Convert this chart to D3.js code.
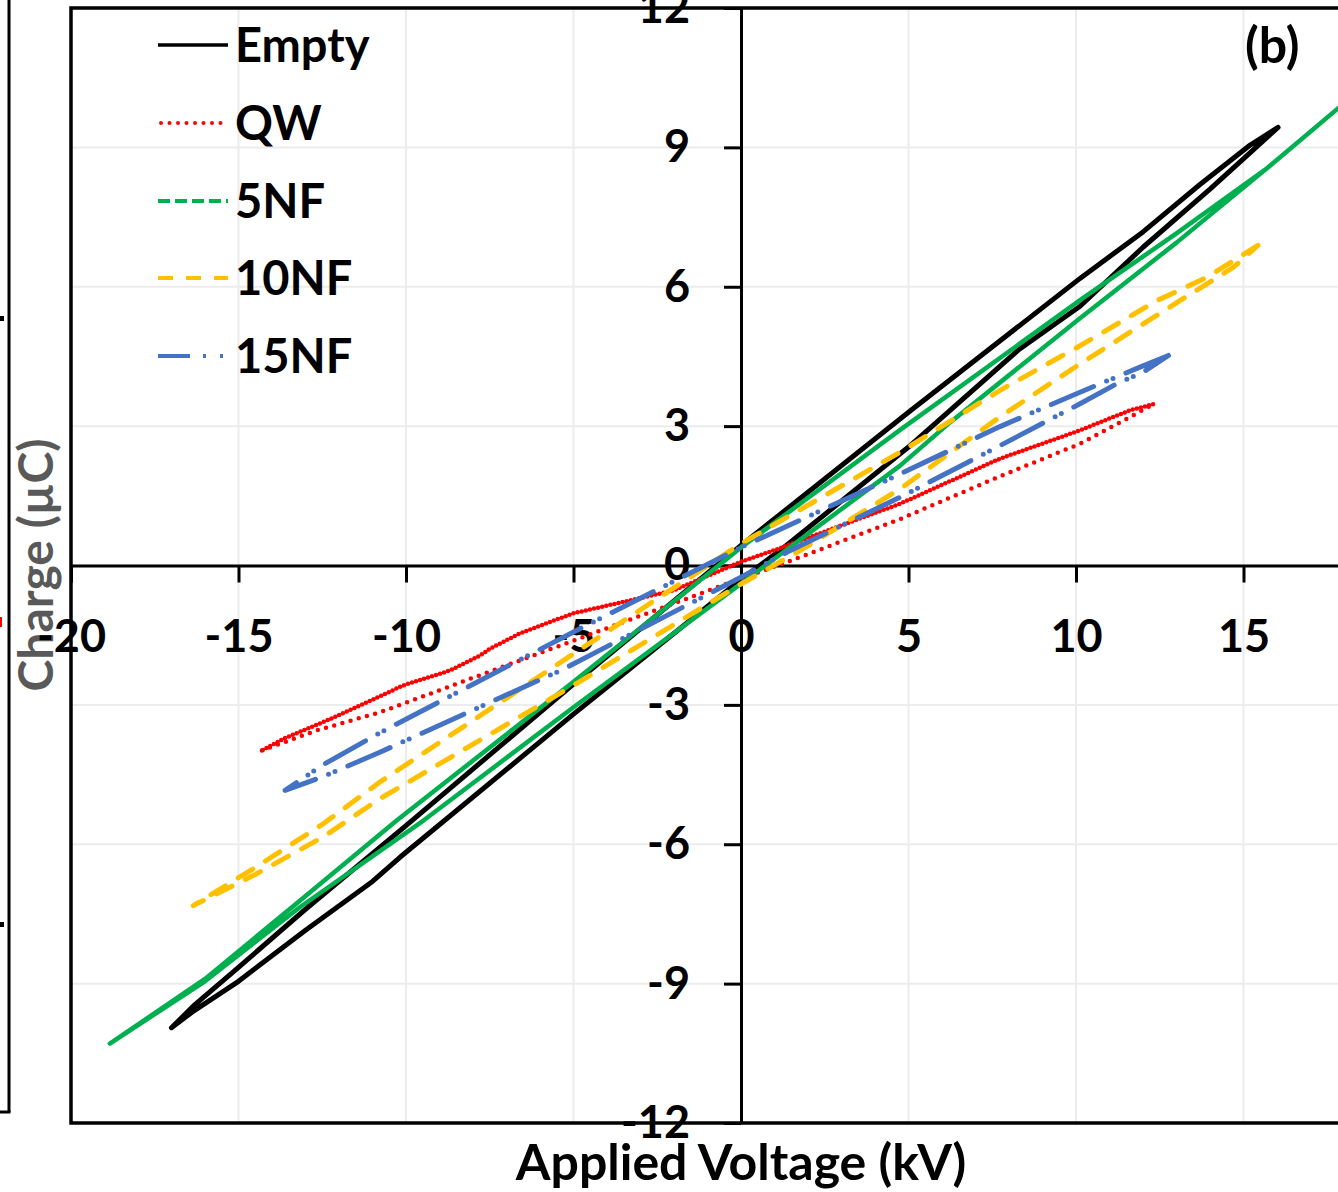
<!DOCTYPE html>
<html>
<head>
<meta charset="utf-8">
<script src="https://cdn.jsdelivr.net/npm/d3@7"></script>
<style>
body { margin: 0; background: #fff; }
svg { display: block; }
</style>
</head>
<body>
<div id="chart"></div>
<script>
// each loop = upper branch (right tip -> left tip) + lower branch (left tip -> right tip), points are [kV, µC]
var emptyUpper = [[16.03,9.43],[15.2,9.05],[13.7,8.2],[12,7.18],[10.12,6.18],[5,3.3],[0,0.43],[-5,-2.55],[-10,-5.6],[-13,-7.4],[-15,-8.65],[-16.3,-9.45],[-17,-9.95]]
var emptyLower = [[-17,-9.95],[-16.4,-9.62],[-15,-8.95],[-13,-7.85],[-11,-6.8],[-10.18,-6.28],[-5,-3.2],[0,-0.3],[1.16,0.32],[5,2.55],[8.3,4.65],[10.12,5.58],[12,6.85],[14,8.1],[15.3,8.95],[16.03,9.43]]

var qwUpper = [[12.3,3.47],[11.61,3.34],[10.12,2.91],[7.73,2.3],[4.75,1.33],[0.96,0.32],[0,0.08],[-2.03,-0.54],[-5.01,-1.03],[-6.6,-1.46],[-7.49,-1.79],[-7.79,-1.94],[-8.69,-2.26],[-10.08,-2.58],[-11.27,-2.98],[-12.47,-3.37],[-13.66,-3.73],[-14.3,-3.98]]
var qwLower = [[-14.3,-3.98],[-12.67,-3.55],[-10.78,-3.16],[-5.8,-1.83],[0,-0.28],[1.36,0.07],[4.75,1.0],[7.73,1.92],[10.12,2.62],[11.5,3.15],[12.3,3.47]]

var nf5Upper = [[18.9,10.5],[17.82,9.84],[15.7,8.55],[13,7.15],[10.12,5.71],[4.75,2.92],[0,0.39],[-5,-2.5],[-10.28,-5.49],[-13.16,-7.21],[-16,-8.9],[-18.84,-10.29]]
var nf5Lower = [[-18.84,-10.29],[-16,-8.95],[-13.16,-7.35],[-9.48,-5.49],[-5,-3.05],[0,-0.39],[4.75,2.15],[6.24,3.08],[10.12,5.32],[13,6.95],[15.7,8.55],[17.82,9.84],[18.9,10.5]]

var nf10Upper = [[15.43,6.89],[13.9,6.2],[12.41,5.7],[10.12,4.73],[7.73,3.77],[4.75,2.44],[0,0.47],[-5,-1.9],[-10.78,-4.66],[-12.47,-5.56],[-14.5,-6.5],[-16.35,-7.32]]
var nf10Lower = [[-16.35,-7.32],[-14.5,-6.65],[-12.47,-5.84],[-10.78,-5.02],[-5,-2.58],[0,-0.4],[1.76,0.32],[4.75,1.65],[7.73,3.2],[10.12,4.34],[13.1,5.7],[14.7,6.42],[15.43,6.89]]

var nf15Upper = [[12.76,4.52],[11.91,4.27],[10.12,3.73],[7.73,2.99],[4.75,1.97],[3.25,1.47],[0,0.39],[-5,-1.43],[-10.78,-3.6],[-12.5,-4.3],[-13.61,-4.84]]
var nf15Lower = [[-13.61,-4.84],[-12.5,-4.55],[-10.78,-4.02],[-5.3,-2.23],[0,-0.25],[1.46,0.32],[4.75,1.47],[7.73,2.58],[10.12,3.48],[11.21,3.91],[12,4.16],[12.76,4.52]]

var seriesNames = ['Empty', 'QW', '5NF', '10NF', '15NF']
var xTicks = [-20, -15, -10, -5, 0, 5, 10, 15]
var yTicks = [-12, -9, -6, -3, 0, 3, 6, 9, 12]

//styles per series (plot line + legend sample)
var styles = {
  'Empty': {color: '#000000', width: 5, dash: null, legendDash: null},
  'QW':    {color: '#ff0000', width: 4.5, dash: '0 4.2', dash2: '0 8.5', legendDash: '0 8.5'},
  '5NF':   {color: '#00b050', width: 4.5, dash: null, legendDash: '12 5'},
  '10NF':  {color: '#ffc000', width: 5, dash: '17 15', legendDash: '15 13'},
  '15NF':  {color: '#4472c4', width: 5, dash: '46 14 0 7 0 14', legendDash: '32 13 3 14 3 40'}
}
var loops = {
  'Empty': [emptyUpper, emptyLower],
  'QW': [qwUpper, qwLower],
  '5NF': [nf5Upper, nf5Lower],
  '10NF': [nf10Upper, nf10Lower],
  '15NF': [nf15Upper, nf15Lower]
}

var font = 'Lato, "Open Sans", sans-serif'
var width = 1338, height = 1192

var svg = d3.select('#chart').append('svg')
  .attr('width', width).attr('height', height)
  .style('font-family', font).style('font-weight', 700)

var x = d3.scaleLinear().domain([-20, 20]).range([71, 1411])
var y = d3.scaleLinear().domain([-12, 12]).range([1123, 8])

// pieces of the neighbouring panel on the far left
svg.append('line').attr('x1', 9).attr('x2', 9).attr('y1', 0).attr('y2', 1112)
  .attr('stroke', '#000').attr('stroke-width', 3)
svg.append('line').attr('x1', 0).attr('x2', 10.5).attr('y1', 1112).attr('y2', 1112)
  .attr('stroke', '#000').attr('stroke-width', 3)
svg.append('rect').attr('x', 0).attr('y', 316).attr('width', 4).attr('height', 5).attr('fill', '#000')
svg.append('rect').attr('x', 0).attr('y', 922).attr('width', 4).attr('height', 5).attr('fill', '#000')
svg.append('rect').attr('x', 0).attr('y', 617).attr('width', 2).attr('height', 10).attr('fill', '#ff0000')

//gridlines
svg.append('g').selectAll('line').data(xTicks).enter().append('line')
  .attr('x1', d => x(d)).attr('x2', d => x(d)).attr('y1', y(12)).attr('y2', y(-12))
  .attr('stroke', '#ececec').attr('stroke-width', 2)
svg.append('g').selectAll('line').data(yTicks).enter().append('line')
  .attr('x1', x(-20)).attr('x2', width).attr('y1', d => y(d)).attr('y2', d => y(d))
  .attr('stroke', '#ececec').attr('stroke-width', 2)

//plot frame
svg.append('path')
  .attr('d', 'M' + width + ',' + y(12) + 'H' + x(-20) + 'V' + y(-12) + 'H' + width)
  .attr('fill', 'none').attr('stroke', '#000').attr('stroke-width', 3.5)

// y title (drawn before tick labels, the -20 sits on top of it)
svg.append('text')
  .attr('transform', 'translate(53,565) rotate(-90)')
  .attr('text-anchor', 'middle')
  .attr('font-size', 48).attr('fill', '#595959')
  .text('Charge (µC)')

//axes crossing at the origin
var xAxis = d3.axisBottom(x).tickValues(xTicks).tickSize(17).tickSizeOuter(0).tickPadding(38).tickFormat(d => String(d))
var gx = svg.append('g').attr('transform', 'translate(0,' + y(0) + ')').call(xAxis)
var yAxis = d3.axisLeft(y).tickValues(yTicks).tickSize(17).tickSizeOuter(0).tickPadding(34).tickFormat(d => String(d))
var gy = svg.append('g').attr('transform', 'translate(' + x(0) + ',0)').call(yAxis)

;[gx, gy].forEach(function(g) {
  g.attr('font-family', font).attr('font-size', 45).attr('font-weight', 700)
  g.select('.domain').attr('stroke', '#000').attr('stroke-width', 3)
  g.selectAll('.tick line').attr('stroke', '#000').attr('stroke-width', 3)
  g.selectAll('.tick text').attr('fill', '#000')
})

svg.append('text')
  .attr('x', 741).attr('y', 1180)
  .attr('text-anchor', 'middle').attr('font-size', 50).attr('fill', '#000')
  .text('Applied Voltage (kV)')

//series loops
var line = d3.line().x(d => x(d[0])).y(d => y(d[1]))
var plot = svg.append('g')
seriesNames.forEach(function(name) {
  var s = styles[name]
  var up = loops[name][0], lo = loops[name][1]
  if (name == 'QW') {
    // dense points on the upper branch, sparse on the lower one
    plot.append('path').attr('d', line(up))
      .attr('fill', 'none').attr('stroke', s.color).attr('stroke-width', s.width)
      .attr('stroke-linecap', 'round').attr('stroke-dasharray', s.dash)
    plot.append('path').attr('d', line(lo))
      .attr('fill', 'none').attr('stroke', s.color).attr('stroke-width', s.width)
      .attr('stroke-linecap', 'round').attr('stroke-dasharray', s.dash2)
  } else {
    plot.append('path').attr('d', line(up.concat(lo.slice(1))))
      .attr('fill', 'none').attr('stroke', s.color).attr('stroke-width', s.width)
      .attr('stroke-linecap', 'round').attr('stroke-linejoin', 'round')
      .attr('stroke-dasharray', s.dash)
  }
})

//legend
var legend = svg.append('g')
var legendY = [45, 123, 201, 278, 356]
seriesNames.forEach(function(name, i) {
  var s = styles[name]
  legend.append('line')
    .attr('x1', name == 'QW' ? 161 : 158).attr('x2', 228)
    .attr('y1', legendY[i]).attr('y2', legendY[i])
    .attr('stroke', s.color).attr('stroke-width', name == 'Empty' ? 3.5 : 4)
    .attr('stroke-linecap', name == 'QW' ? 'round' : 'butt')
    .attr('stroke-dasharray', s.legendDash)
  legend.append('text')
    .attr('x', 235).attr('y', legendY[i]).attr('dy', '0.36em')
    .attr('font-size', 47).attr('fill', '#000')
    .text(name)
})

svg.append('text')
  .attr('x', 1245).attr('y', 63)
  .attr('font-size', 50).attr('fill', '#000')
  .text('(b)')
</script>
</body>
</html>
